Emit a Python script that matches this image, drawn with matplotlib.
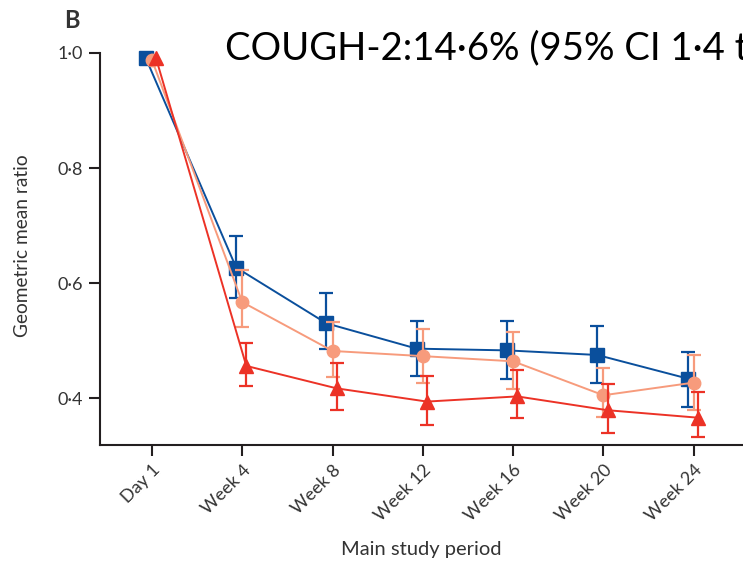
import matplotlib
matplotlib.use("Agg")
import matplotlib.pyplot as plt

# study visits (weeks) and their axis labels
weeks = [0, 4, 8, 12, 16, 20, 24]
visit_labels = ["Day 1", "Week 4", "Week 8", "Week 12", "Week 16", "Week 20", "Week 24"]

# geometric mean ratio with 95% CI per treatment arm
blue_gmr = [0.991, 0.627, 0.530, 0.486, 0.483, 0.475, 0.434]
blue_lo = [0.991, 0.574, 0.485, 0.439, 0.433, 0.426, 0.385]
blue_hi = [0.991, 0.682, 0.583, 0.534, 0.534, 0.526, 0.481]

salmon_gmr = [0.988, 0.567, 0.482, 0.473, 0.464, 0.405, 0.427]
salmon_lo = [0.988, 0.524, 0.437, 0.426, 0.415, 0.367, 0.379]
salmon_hi = [0.988, 0.623, 0.533, 0.521, 0.515, 0.452, 0.475]

red_gmr = [0.991, 0.456, 0.417, 0.394, 0.403, 0.379, 0.366]
red_lo = [0.991, 0.421, 0.379, 0.354, 0.366, 0.339, 0.333]
red_hi = [0.991, 0.496, 0.461, 0.439, 0.449, 0.424, 0.411]

yticks = [0.4, 0.6, 0.8, 1.0]

FONT = "Lato"
INK = "#231f20"
TXT = "#333333"

fig = plt.figure(figsize=(7.43, 5.69), dpi=100)
ax = fig.add_axes([0.1346, 0.2174, 0.8654, 0.6895])

series = [
    (blue_gmr, blue_lo, blue_hi, "#0a4f9c", "s", 10.5, -0.27),
    (salmon_gmr, salmon_lo, salmon_hi, "#f79b7c", "o", 9.0, 0.0),
    (red_gmr, red_lo, red_hi, "#ec3226", "^", 10.5, 0.18),
]
for i, (gmr, lo, hi, col, mk, ms, dx) in enumerate(series):
    xs = [w + dx for w in weeks]
    err = [[g - l for g, l in zip(gmr, lo)], [h - g for g, h in zip(gmr, hi)]]
    ax.errorbar(xs[1:], gmr[1:], yerr=[err[0][1:], err[1][1:]], fmt="none",
                ecolor=col, elinewidth=1.6, capsize=5, capthick=1.6,
                zorder=2 + i, clip_on=False)
    ax.plot(xs, gmr, color=col, lw=1.4, marker=mk, ms=ms, mec=col, mfc=col,
            zorder=3 + i, clip_on=False)

ax.set_xlim(-2.3, 26.18)
ax.set_ylim(0.318, 1.0)

ax.spines["top"].set_visible(False)
ax.spines["right"].set_visible(False)
for s in ("left", "bottom"):
    ax.spines[s].set_linewidth(1.5)
    ax.spines[s].set_color(INK)

ax.set_yticks(yticks)
ax.set_yticklabels([f"{v:.1f}".replace(".", "\u00b7") for v in yticks],
                   fontsize=13, family=FONT, color=TXT)
ax.set_xticks(weeks)
ax.set_xticklabels(visit_labels, rotation=45, ha="right", rotation_mode="anchor",
                   fontsize=13, family=FONT, color=TXT)
ax.tick_params(axis="both", length=8, width=1.5, color=INK, direction="out")
ax.tick_params(axis="x", pad=4)
ax.tick_params(axis="y", pad=4)

ax.set_ylabel("Geometric mean ratio", fontsize=13.8, family=FONT, color=TXT)
ax.yaxis.set_label_coords(-0.108, 0.509)
ax.set_xlabel("Main study period", fontsize=14.5, family=FONT, color=TXT,
              labelpad=12)

fig.text(72 / 743, 1 - 20 / 569, "B", fontsize=17, fontweight="bold", family=FONT,
         color=TXT, ha="center", va="center")
fig.text(225 / 743, 1 - 48 / 569, "COUGH-2:14\u00b76% (95% CI 1\u00b74 to",
         fontsize=27.5, family=FONT, color="black", ha="left", va="center")

fig.savefig("out.png", dpi=100)
